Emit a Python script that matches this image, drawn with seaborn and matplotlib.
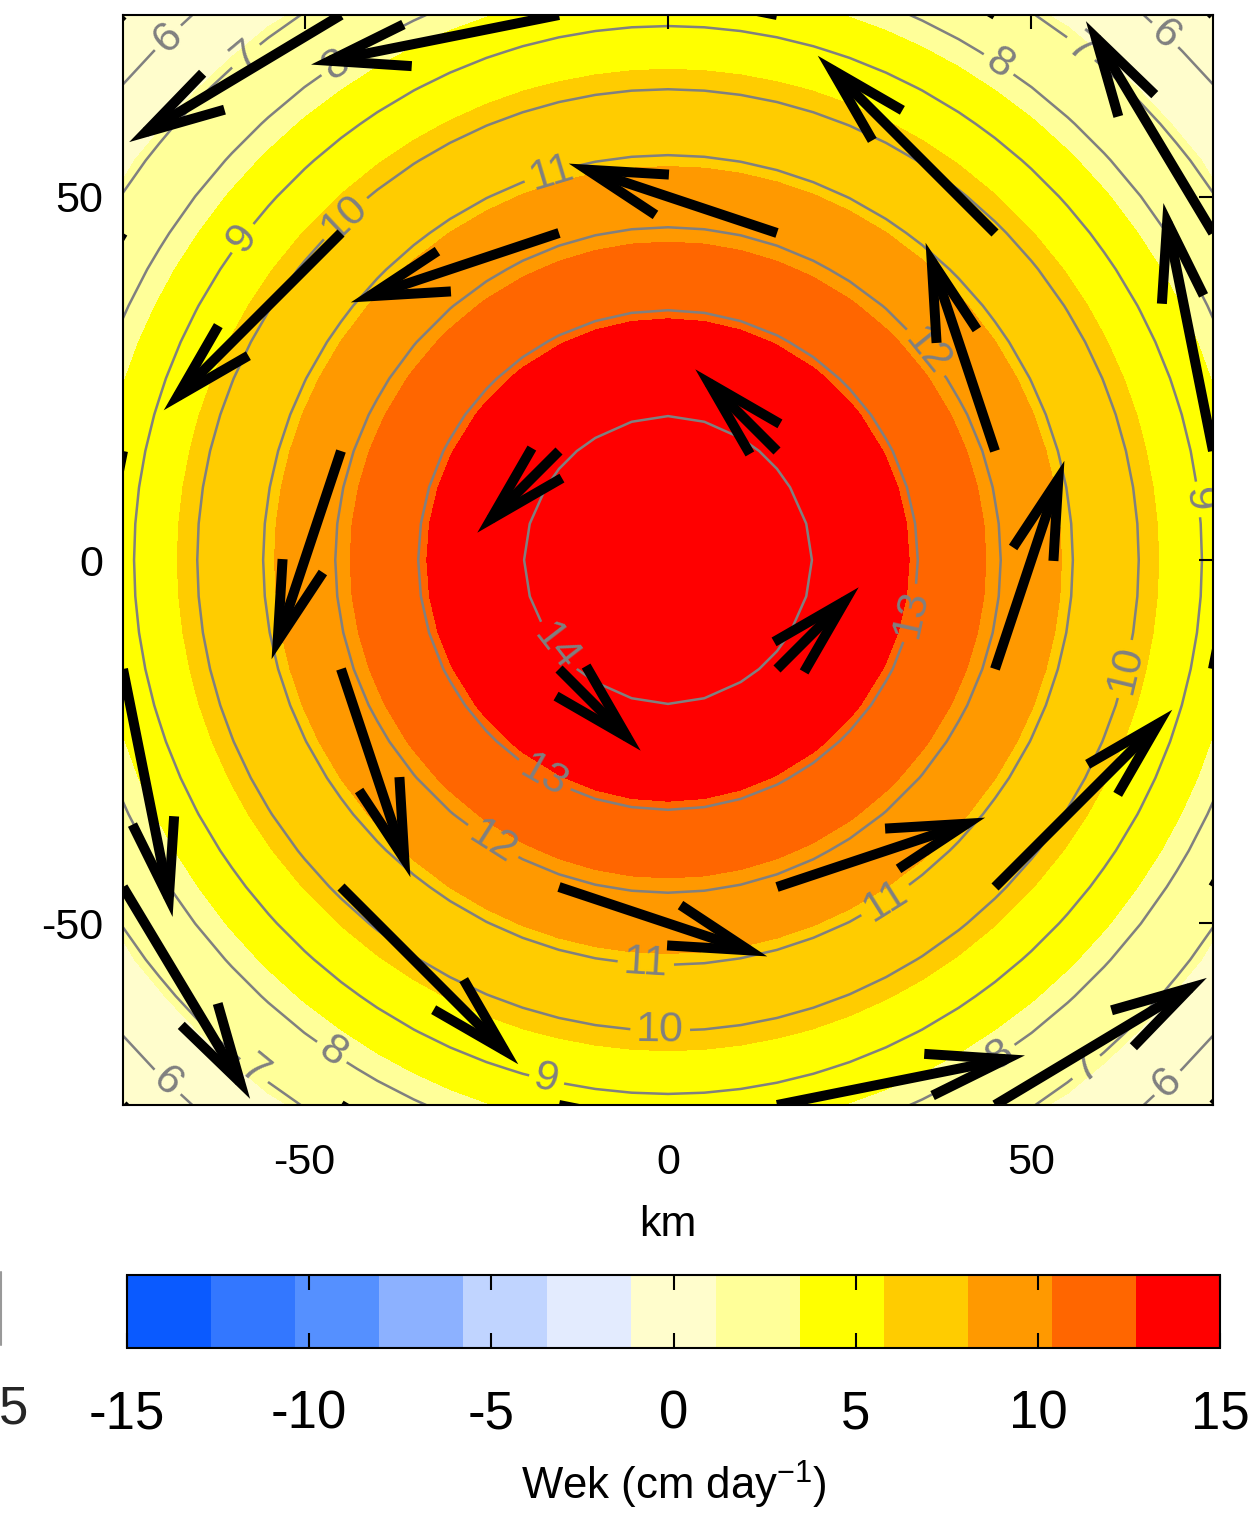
import numpy as np
import matplotlib
matplotlib.use("Agg")
import matplotlib.pyplot as plt
import seaborn as sns
from matplotlib.colors import ListedColormap, BoundaryNorm
from matplotlib.patches import FancyArrowPatch, ArrowStyle
from matplotlib.lines import Line2D

# ---------------- data ----------------
# Ekman pumping (filled), radial profile, cm/day
WEK_RADIUS_KM = [0, 10, 20, 30, 40, 50, 60, 70, 80, 90, 100, 110]
WEK_VALUE = [14.9, 14.8, 14.2, 13.3, 11.4, 8.7, 7.2, 5.3, 3.2, 1.3, 0.3, -0.5]

# wind speed (grey contour lines), radial profile
SPEED_RADIUS_KM = [0, 10, 20, 30, 40, 50, 60, 70, 80, 90, 100, 110]
SPEED_VALUE = [14.6, 14.5, 13.99, 13.35, 12.55, 11.6, 10.55, 9.4, 8.25, 7.05, 5.95, 4.9]
SPEED_LEVELS = [6, 7, 8, 9, 10, 11, 12, 13, 14]

# vectors: grid positions and length (km) as a function of radius
ARROW_X_KM = [-75, -45, -15, 15, 45, 75]
ARROW_Y_KM = [-75, -45, -15, 15, 45, 75]
ARROW_RADIUS_KM = [21.21, 47.43, 63.64, 76.49, 87.46, 106.07]
ARROW_LENGTH_KM = [15.9, 30.2, 34.5, 34.8, 34.0, 33.0]

# colour scale
CBAR_LEVELS = np.linspace(-15, 15, 14)
CBAR_TICKS = [-15, -10, -5, 0, 5, 10, 15]
WEK_COLORS = ["#0A5AFF", "#3377FF", "#5590FF", "#8CB1FF", "#C0D4FF", "#E3EBFE",
              "#FFFDCC", "#FFFF99", "#FFFF00", "#FFCC00", "#FF9900", "#FF6600", "#FF0000"]
AXIS_TICKS = [-50, 0, 50]

# contour label placement (layout)
LABEL_POS = [(-68.3, 71.3), (67.8, 71.6), (-69.3, -72.3), (69.4, -72.7),
             (-58.3, 69.6), (56.7, 70.2), (-56.9, -70.2), (57.9, -70.2),
             (-45.2, 67.5), (45.0, 67.5), (-46.6, -68.2), (45.7, -68.2),
             (-58.3, 44.1), (72.6, 8.3), (-16.9, -72.3),
             (-43.8, 46.3), (63.6, -15.2), (-1.1, -65.4),
             (-15.7, 52.3), (29.9, -46.8), (-3.1, -56.5),
             (35.4, 28.5), (-25.2, -40.6),
             (34.7, -7.6), (-18.3, -31.7),
             (-16.9, -13.1)]

# ---------------- style ----------------
sns.set_theme(style="white")
plt.rcParams["font.family"] = ["Liberation Sans", "DejaVu Sans"]
plt.rcParams["mathtext.default"] = "regular"
plt.rcParams["axes.unicode_minus"] = False

W_PX, H_PX = 1260, 1513
fig = plt.figure(figsize=(W_PX / 100, H_PX / 100), dpi=100)
fig.patch.set_facecolor("white")

ax = fig.add_axes([123 / W_PX, 1 - 1105 / H_PX, 1090 / W_PX, 1090 / H_PX])

grid = np.arange(-75, 75.01, 5.0)
X, Y = np.meshgrid(grid, grid)
R = np.hypot(X, Y)
W = np.interp(R, WEK_RADIUS_KM, WEK_VALUE)
S = np.interp(R, SPEED_RADIUS_KM, SPEED_VALUE)

cmap = ListedColormap(sns.color_palette(WEK_COLORS))
norm = BoundaryNorm(CBAR_LEVELS, cmap.N)
cf = ax.contourf(X, Y, W, levels=CBAR_LEVELS, cmap=cmap, norm=norm, zorder=1)
cs = ax.contour(X, Y, S, levels=SPEED_LEVELS, colors="#808080", linewidths=1.8, zorder=2)
ax.clabel(cs, fmt="%d", fontsize=31, colors="#808080", inline=True,
          inline_spacing=6, manual=LABEL_POS)

style = ArrowStyle("->", head_length=57, head_width=15.3)
for xi in ARROW_X_KM:
    for yi in ARROW_Y_KM:
        r = np.hypot(xi, yi)
        m = np.interp(r, ARROW_RADIUS_KM, ARROW_LENGTH_KM)
        u, v = -m * yi / r, m * xi / r
        arr = FancyArrowPatch((xi, yi), (xi + u, yi + v), arrowstyle=style,
                              mutation_scale=1, lw=7.2, color="black",
                              capstyle="butt", joinstyle="miter",
                              shrinkA=0, shrinkB=0, zorder=4)
        ax.add_patch(arr)

ax.set_xlim(-75, 75)
ax.set_ylim(-75, 75)
ax.set_xticks(AXIS_TICKS)
ax.set_yticks(AXIS_TICKS)
ax.set_axisbelow(False)
ax.tick_params(direction="in", top=True, right=True, length=10, width=1.5,
               labelsize=31, colors="black")
ax.tick_params(axis="x", pad=27)
ax.tick_params(axis="y", pad=14)
for sp in ax.spines.values():
    sp.set_color("black")
    sp.set_linewidth(1.5)
    sp.set_zorder(6)
ax.set_xlabel("km", fontsize=31, labelpad=16, color="black")

# colour bar
cax = fig.add_axes([127 / W_PX, 1 - 1348 / H_PX, 1093 / W_PX, 73 / H_PX])
cb = fig.colorbar(cf, cax=cax, orientation="horizontal", ticks=CBAR_TICKS)
cb.minorticks_off()
cax.set_axisbelow(False)
cb.outline.set_linewidth(1.5)
cb.outline.set_edgecolor("black")
cax.xaxis.set_ticks_position("both")
cax.tick_params(which="major", direction="in", top=True, bottom=True,
                labeltop=False, labelbottom=True, length=11, width=1.5,
                labelsize=38, pad=30, colors="black")
for t in cax.xaxis.get_major_ticks():
    t.tick1line.set_zorder(5)
    t.tick2line.set_zorder(5)
cb.set_label("Wek (cm day$^{-1}$)", fontsize=31.5, labelpad=14, color="black")

# cut-off remains of a neighbouring panel at the left edge
fig.text(28 / W_PX, 1 - 1410 / H_PX, "5", ha="right", va="center", fontsize=38)
fig.add_artist(Line2D([1 / W_PX, 1 / W_PX], [1 - 1272 / H_PX, 1 - 1345 / H_PX],
                      color="#999999", lw=1.5, transform=fig.transFigure))

fig.savefig("out.png", dpi=100, facecolor="white")
